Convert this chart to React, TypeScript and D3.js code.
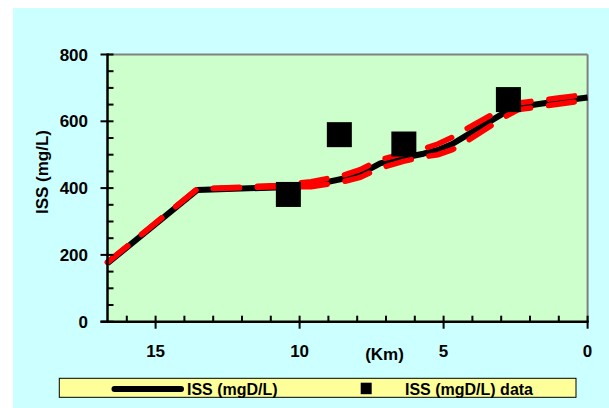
import React, { useRef, useEffect } from 'react';
import * as d3 from 'd3';

// distance (km) along the reach and modelled ISS (mg/L)
const modelKm = [16.67, 13.56, 10.8, 9.6, 8.5, 7.9, 7.2, 6.4, 5.7, 5.2, 4.7, 4.2, 2.9, 2.4, 1.1, 0];
const modelIss = [175, 394, 402, 408, 428, 442, 474, 491, 503, 514, 532, 558, 625, 643, 659, 671];
const upperIss = [178, 397, 408, 419, 438, 455, 485, 503, 518, 532, 552, 578, 640, 655, 669, 681];
const lowerIss = [178, 397, 404, 404, 419, 432, 460, 480, 493, 500, 515, 540, 612, 635, 650, 663];

// observed ISS
const dataKm = [10.39, 8.62, 6.38, 2.75];
const dataIss = [381, 560, 532, 665];

const xTicks = [15, 10, 5, 0];
const yTicks = [0, 200, 400, 600, 800];

const W = 609;
const H = 408;

const App = () => {
  const svgRef = useRef<SVGSVGElement>(null);

  useEffect(() => {
    const svg = d3.select(svgRef.current);
    svg.selectAll('*').remove();

    const left = 107.5, right = 587.6, top = 54.5, bottom = 321.7;
    const font = '"Liberation Sans", Arial, sans-serif';

    // outer background
    svg.append('rect')
      .attr('x', 13).attr('y', 8)
      .attr('width', W - 13).attr('height', H - 8)
      .attr('fill', '#CCFFFF');

    const x = d3.scaleLinear().domain([16.67, 0]).range([left, right]);
    const y = d3.scaleLinear().domain([0, 800]).range([bottom, top]);

    // plot area
    svg.append('rect')
      .attr('x', left).attr('y', top)
      .attr('width', right - left).attr('height', bottom - top)
      .attr('fill', '#CCFFCC');
    svg.append('line')
      .attr('x1', left).attr('x2', right).attr('y1', top).attr('y2', top)
      .attr('stroke', '#808080').attr('stroke-width', 2);
    svg.append('line')
      .attr('x1', right).attr('x2', right).attr('y1', top).attr('y2', bottom)
      .attr('stroke', '#808080').attr('stroke-width', 2);

    // model line (black) with red dashed bounds
    const idx = d3.range(modelKm.length);
    const line = (vals: number[]) => d3.line<number>()
      .x(i => x(modelKm[i]))
      .y(i => y(vals[i]))(idx);

    svg.append('path')
      .attr('d', line(modelIss))
      .attr('fill', 'none')
      .attr('stroke', '#000')
      .attr('stroke-width', 6)
      .attr('stroke-linejoin', 'round');

    [upperIss, lowerIss].forEach(vals => {
      svg.append('path')
        .attr('d', line(vals))
        .attr('fill', 'none')
        .attr('stroke', '#FF0000')
        .attr('stroke-width', 5.5)
        .attr('stroke-linecap', 'round')
        .attr('stroke-dasharray', '26 18');
    });

    // observed squares
    const sq = 25;
    svg.selectAll('.pt')
      .data(d3.range(dataKm.length))
      .enter()
      .append('rect')
      .attr('class', 'pt')
      .attr('x', i => x(dataKm[i]) - sq / 2)
      .attr('y', i => y(dataIss[i]) - sq / 2)
      .attr('width', sq).attr('height', sq)
      .attr('fill', '#000');

    // y axis
    svg.append('line')
      .attr('x1', left).attr('x2', left).attr('y1', top - 1).attr('y2', bottom + 1)
      .attr('stroke', '#000').attr('stroke-width', 2.5);
    d3.range(0, 801, 50).forEach(v => {
      const major = v % 200 === 0;
      svg.append('line')
        .attr('x1', major ? left - 7 : left).attr('x2', left + 6)
        .attr('y1', y(v)).attr('y2', y(v))
        .attr('stroke', '#000').attr('stroke-width', 2);
    });
    yTicks.forEach(v => {
      svg.append('text')
        .attr('x', 88).attr('y', y(v) + 6)
        .attr('text-anchor', 'end')
        .attr('font-family', font).attr('font-weight', 'bold').attr('font-size', 17)
        .text(v);
    });

    // x axis
    svg.append('line')
      .attr('x1', left - 7).attr('x2', right + 1).attr('y1', bottom).attr('y2', bottom)
      .attr('stroke', '#000').attr('stroke-width', 2.5);
    d3.range(0, 17).forEach(k => {
      const major = k % 5 === 0;
      svg.append('line')
        .attr('x1', x(k)).attr('x2', x(k))
        .attr('y1', bottom - 6).attr('y2', major ? bottom + 7 : bottom)
        .attr('stroke', '#000').attr('stroke-width', 2);
    });
    xTicks.forEach(k => {
      svg.append('text')
        .attr('x', x(k)).attr('y', 357)
        .attr('text-anchor', 'middle')
        .attr('font-family', font).attr('font-weight', 'bold').attr('font-size', 17)
        .text(k);
    });

    // axis titles
    svg.append('text')
      .attr('x', 384.5).attr('y', 360)
      .attr('text-anchor', 'middle')
      .attr('font-family', font).attr('font-weight', 'bold').attr('font-size', 17)
      .text('(Km)');
    svg.append('text')
      .attr('transform', 'translate(48,172) rotate(-90)')
      .attr('text-anchor', 'middle')
      .attr('font-family', font).attr('font-weight', 'bold').attr('font-size', 17)
      .text('ISS (mg/L)');

    // legend
    svg.append('rect')
      .attr('x', 59.3).attr('y', 378.3)
      .attr('width', 576 - 59.3).attr('height', 19)
      .attr('fill', '#FFFF99')
      .attr('stroke', '#000').attr('stroke-width', 1);
    svg.append('line')
      .attr('x1', 114.5).attr('x2', 181).attr('y1', 389).attr('y2', 389)
      .attr('stroke', '#000').attr('stroke-width', 6).attr('stroke-linecap', 'round');
    svg.append('text')
      .attr('x', 187).attr('y', 395)
      .attr('font-family', font).attr('font-weight', 'bold').attr('font-size', 16)
      .text('ISS (mgD/L)');
    svg.append('rect')
      .attr('x', 360.7).attr('y', 382.7)
      .attr('width', 11).attr('height', 11.5)
      .attr('fill', '#000');
    svg.append('text')
      .attr('x', 405).attr('y', 395)
      .attr('font-family', font).attr('font-weight', 'bold').attr('font-size', 16)
      .text('ISS (mgD/L) data');
  }, []);

  return (
    <svg
      ref={svgRef}
      width={W}
      height={H}
      style={{ position: 'absolute', left: 0, top: 0 }}
    />
  );
};

export default App;
